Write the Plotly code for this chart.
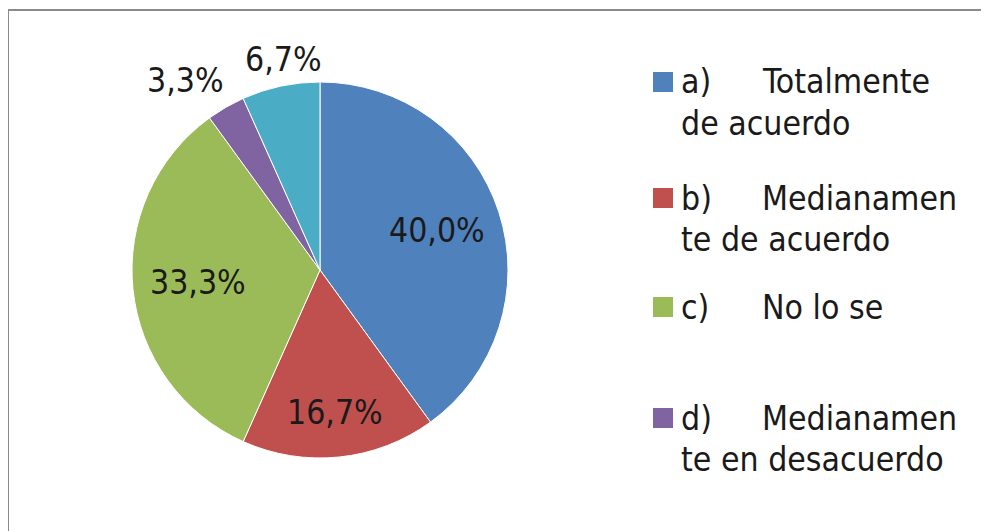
import math
import plotly.graph_objects as go

# page has an 8px body margin; figure is sized to fit the 989x531 window
OFF = 8
FW, FH = 989 - OFF, 531 - OFF

letters = ["a)", "b)", "c)", "d)", "e)"]
label_line1 = ["Totalmente", "Medianamen", "No lo se", "Medianamen", "Totalmente"]
label_line2 = ["de acuerdo", "te de acuerdo", "", "te en desacuerdo", "en desacuerdo"]
values = [40.0, 16.7, 33.3, 3.3, 6.7]

# styling
colors = ["#4F81BD", "#C0504D", "#9BBB59", "#8064A2", "#4BACC6"]
legend_rows_y = [82, 198, 307, 418]          # only 4 rows visible (last one cut off)
label_r = [0.653, 0.76, 0.653, 1.18, 1.133]  # label distance from centre, fraction of radius
label_xshift = [0, 0, 0, -23, 8]
label_yshift = [2, 0, 0, -3, 2]

labels = [f"{l} {a} {b}".strip() for l, a, b in zip(letters, label_line1, label_line2)]
texts = [f"{v:.1f}%".replace(".", ",") for v in values]

FONT = "DejaVu Sans Condensed, DejaVu Sans"
TXT = "#1a1a1a"
FS = 33.5


def px(x):
    return (x - OFF) / FW


def py(y):
    return 1 - (y - OFF) / FH


cx, cy, r = 320, 270, 188
fig = go.Figure(go.Pie(
    labels=labels, values=values, textinfo="none",
    sort=False, direction="clockwise", rotation=0,
    marker=dict(colors=colors, line=dict(color="#ffffff", width=1)),
    domain=dict(x=[px(cx - r), px(cx + r)], y=[py(cy + r), py(cy - r)]),
    showlegend=False, hoverinfo="label+percent",
))

annotations = []
# data labels placed along each slice's mid angle
total = sum(values)
cum = 0.0
for i, v in enumerate(values):
    mid = (cum + v / 2) / total * 2 * math.pi
    cum += v
    lx = cx + math.sin(mid) * r * label_r[i]
    ly = cy - math.cos(mid) * r * label_r[i]
    annotations.append(dict(x=px(lx), y=py(ly), xref="paper", yref="paper", text=texts[i],
                            showarrow=False, xanchor="center", yanchor="middle",
                            xshift=label_xshift[i], yshift=label_yshift[i],
                            font=dict(family=FONT, size=FS, color=TXT)))

shapes = [dict(type="rect", xref="paper", yref="paper", x0=px(8), x1=1.05,
               y0=-0.05, y1=py(10), line=dict(color="#8a8a8a", width=2),
               fillcolor="rgba(0,0,0,0)", layer="below")]
for i, yrow in enumerate(legend_rows_y):
    shapes.append(dict(type="rect", xref="paper", yref="paper",
                       x0=px(653), x1=px(673), y0=py(yrow + 10), y1=py(yrow - 10),
                       line=dict(width=0), fillcolor=colors[i]))
    annotations.append(dict(x=px(679), y=py(yrow), xref="paper", yref="paper",
                            text=letters[i], showarrow=False, xanchor="left", yanchor="middle",
                            font=dict(family=FONT, size=FS, color=TXT)))
    annotations.append(dict(x=px(760), y=py(yrow), xref="paper", yref="paper",
                            text=label_line1[i], showarrow=False, xanchor="left", yanchor="middle",
                            font=dict(family=FONT, size=FS, color=TXT)))
    if label_line2[i]:
        annotations.append(dict(x=px(679), y=py(yrow + 41), xref="paper", yref="paper",
                                text=label_line2[i], showarrow=False, xanchor="left", yanchor="middle",
                                font=dict(family=FONT, size=FS, color=TXT)))

fig.update_layout(
    width=FW, height=FH, margin=dict(l=0, r=0, t=0, b=0),
    paper_bgcolor="white", plot_bgcolor="white",
    shapes=shapes, annotations=annotations,
)
fig.write_html("out.html")
